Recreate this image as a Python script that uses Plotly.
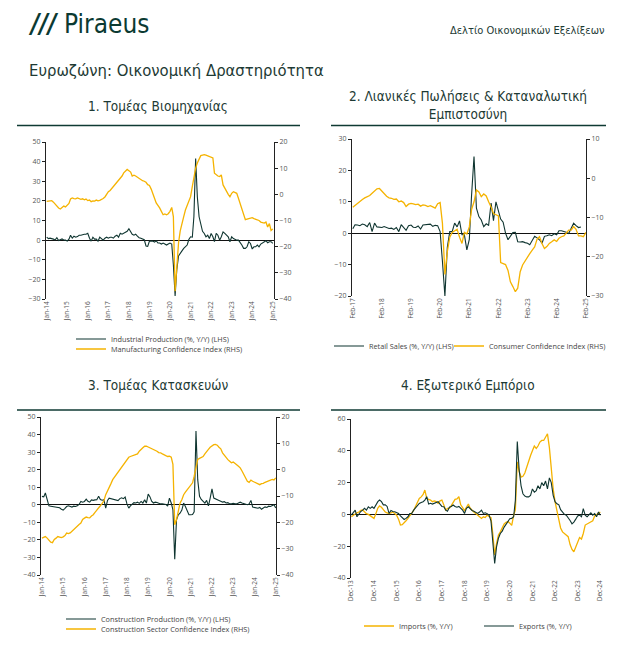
import plotly.graph_objects as go
import pandas as pd

# ---------------- Panel 1: Industry (Jan-14 .. Jan-25, monthly) ----------------
p1_start = "2014-01-01"
ind_prod = [
    1.5, 0.8, 1.0, 0.9, 0.5, 0.1, 1.2, -0.2, 0.2, 0.6, 0.1, 0.0,
    -0.5, 0.5, 2.5, 1.0, 2.0, 1.5, 1.8, 2.5, 2.5, 2.8, 3.0, 3.0,
    3.5, 1.0, -0.5, 1.5, 0.5, 0.5, -0.5, 1.5, 0.5, 0.0, 1.0, 1.5,
    1.0, 1.5, 1.5, 1.0, 2.0, 2.5, 1.5, 3.5, 3.0, 3.5, 4.0, 4.5,
    5.8, 4.0, 3.0, 2.5, 3.0, 2.0, 1.2, 1.0, 0.5, 0.2, -3.0, -3.2,
    -0.5, -0.3, -0.5, -1.0, -0.3, -1.5, -1.5, -2.0, -1.5, -2.0, -2.5, -2.0,
    -1.5, -2.0, -12.5, -28.5, -15.0, -8.0, -6.5, -5.5, -4.2, -3.5, -2.5, 0.3,
    1.7, 1.5, 12.0, 41.6, 22.0, 11.9, 8.5, 4.5, 3.4, 1.7, 2.5, 0.8,
    3.4, 1.7, -0.8, 3.4, 2.5, 0.0, 1.7, 4.2, 3.4, 2.5, 1.7, -0.8,
    1.7, 0.8, 0.2, 0.0, 0.0, -1.0, -2.5, -4.2, -4.2, -3.4, -0.8, -1.7,
    -4.5, -3.4, -3.4, -2.5, -3.4, -2.0, -1.5, -0.8, -0.3, -1.3, -0.8, -0.8,
    -1.7,
]
manuf_conf = [
    -2.7, -2.5, -2.3, -2.4, -3.0, -3.8, -4.5, -5.2, -5.6, -5.0, -4.5, -4.8,
    -4.3, -3.5, -1.8, -1.4, -1.6, -1.7, -1.4, -1.8, -1.9, -1.7, -2.1, -1.8,
    -2.4, -2.2, -2.8, -2.5, -2.6, -2.2, -2.5, -2.3, -2.0, -1.6, -1.0, 0.0,
    1.0, 1.5, 2.2, 2.8, 3.5, 4.5, 5.2, 6.0, 7.0, 8.2, 9.0, 9.5,
    9.0, 8.5, 7.0, 7.3, 7.0, 6.5, 6.2, 5.8, 5.2, 5.0, 4.6, 3.7,
    3.4, 2.0, 0.0, -1.5, -3.3, -4.2, -5.2, -6.5, -7.8, -7.5, -7.8, -7.4,
    -6.5, -5.0, -8.5, -37.0, -28.0, -18.5, -14.0, -10.6, -8.5, -6.0, -4.5, -2.8,
    -0.9, 3.0, 7.0, 10.0, 12.0, 13.5, 14.8, 15.0, 15.2, 15.0, 14.8, 14.5,
    14.3, 13.9, 8.1, 7.5, 7.0, 6.8, 7.4, 3.6, 2.3, 1.0, 0.0, -0.9,
    0.4, 1.0, 0.6, 0.4, -1.5, -3.5, -6.0, -8.0, -9.7, -9.5, -9.3, -9.0,
    -8.9, -9.3, -9.5, -9.7, -10.0, -10.6, -10.8, -11.0, -10.6, -12.5, -11.2, -13.8,
    -13.2,
]
p1_ticks = ["Jan-14", "Jan-15", "Jan-16", "Jan-17", "Jan-18", "Jan-19",
            "Jan-20", "Jan-21", "Jan-22", "Jan-23", "Jan-24", "Jan-25"]

# ---------------- Panel 2: Retail sales & consumer confidence ----------------
p2_start = "2017-02-01"
retail = [
    1.4, 2.7, 2.6, 2.4, 2.9, 2.7, 2.1, 3.4, 0.5, 3.2, 2.0,
    1.9, 1.8, 2.1, 1.7, 1.5, 1.6, 1.2, 1.8, 0.5, 2.7, 1.6, 0.9,
    2.4, 2.6, 1.9, 1.8, 2.3, 1.3, 2.6, 2.7, 2.6, 2.9, 2.2, 2.5,
    2.4, 0.5, -9.0, -20.0, -4.5, 0.5, 0.5, 3.2, 2.0, 3.9, -0.5, -0.5,
    -5.3, -2.0, 12.0, 24.4, 8.0, 5.3, 4.2, 2.1, 3.0, 2.5, 9.6, 4.0,
    10.0, 7.0, 4.5, 3.5, 0.0, -2.1, -1.0, 0.2, 0.3, -2.7, -2.8, -2.7,
    -3.0, -3.2, -3.7, -2.4, -1.0, -1.5, -2.1, -3.2, -1.0, -0.8, -0.5, -0.8,
    -0.2, -0.5, 0.8, 0.8, 0.6, 0.3, -0.1, 1.5, 3.2, 2.4, 1.8, 2.0,
]
cons_conf = [
    -7.4, -6.9, -6.3, -6.0, -5.4, -5.0, -4.7, -4.4, -3.8, -3.2, -2.7,
    -2.6, -3.3, -4.1, -4.6, -5.0, -5.1, -5.4, -5.3, -6.0, -5.8, -6.2, -7.2,
    -6.6, -6.4, -6.5, -6.7, -6.6, -7.1, -6.8, -6.9, -7.2, -7.0, -7.3, -7.6,
    -6.5, -6.2, -11.5, -24.5, -18.7, -15.0, -13.8, -13.5, -13.0, -15.0, -16.6, -13.8,
    -14.2, -12.4, -8.0, -6.0, -3.0, -3.5, -4.7, -4.0, -4.5, -6.0, -7.3, -9.0,
    -9.4, -9.6, -21.5, -21.8, -22.0, -23.5, -26.4, -27.6, -28.9, -28.0, -23.8, -22.1,
    -21.0, -20.0, -19.2, -18.3, -17.5, -15.5, -14.9, -16.6, -17.9, -17.4, -16.6, -16.2,
    -15.7, -16.1, -15.3, -14.9, -14.7, -14.0, -13.2, -13.2, -12.3, -13.0, -14.7, -14.7,
    -14.9, -13.8,
]
p2_ticks = ["Feb-17", "Feb-18", "Feb-19", "Feb-20", "Feb-21",
            "Feb-22", "Feb-23", "Feb-24", "Feb-25"]

# ---------------- Panel 3: Construction (Jan-14 .. Jan-25) ----------------
p3_start = "2014-01-01"
constr_prod = [
    4.8, 4.5, 6.7, 2.5, -0.6, -0.8, -1.0, -1.3, -1.5, -1.8, -1.7, -2.5,
    -3.0, -2.0, -1.0, -0.6, -1.0, -1.3, -0.8, -1.0, -0.6, 0.2, 1.9, 1.5,
    1.9, 3.2, 2.0, 1.5, 2.8, 2.5, 2.8, 2.9, 4.8, 3.0, 2.6, 2.9,
    -1.9, 2.5, 3.8, 3.5, 3.2, 3.0, 2.6, 2.4, 3.5, 4.0, 3.5, 4.4,
    0.5, -1.9, -0.6, 0.5, 1.2, 1.0, 1.5, 0.8, 1.9, 1.0, 2.8, 1.0,
    6.1, 4.5, 2.0, 1.0, 1.5, 1.3, 0.8, 0.5, 0.6, 0.4, 0.2, -0.8,
    3.8, 1.0, -2.9, -31.0, -8.6, -5.7, -4.8, -3.0, 1.0, -1.0, -3.8, -5.7,
    -5.7, -5.5, -4.0, 42.0, 14.3, 4.8, 3.0, 2.0, 1.0, 2.5, -0.6, 3.8,
    9.0, 3.8, 3.5, 3.0, 2.5, 2.0, 1.5, 1.8, 1.0, 1.2, 0.5, 0.5,
    0.8, 0.5, 0.5, 1.0, 1.5, 1.0, 0.8, 0.5, 0.0, 0.5, 2.5, -1.3,
    -1.5, -1.8, -2.0, -1.5, -2.5, -1.8, -1.2, -1.5, -0.8, -1.0, -0.5, 0.0,
    -1.8,
]
constr_conf = [
    -26.0, -25.7, -25.4, -26.0, -26.7, -27.5, -27.7, -26.5, -26.0, -25.4, -25.6, -25.8,
    -25.5, -25.0, -24.1, -24.3, -24.0, -23.3, -22.8, -22.2, -21.6, -20.8, -20.3, -18.9,
    -18.4, -18.0, -18.2, -18.3, -17.6, -17.1, -16.2, -15.2, -14.5, -13.7, -12.8, -11.8,
    -9.5, -8.2, -6.8, -5.3, -3.8, -2.8, -1.9, -0.9, 0.0, 1.0, 2.0, 3.2,
    4.0, 4.7, 5.0, 5.3, 5.5, 5.8, 6.0, 7.0, 7.5, 8.3, 8.9, 8.9,
    8.6, 8.3, 8.0, 7.8, 7.5, 7.0, 6.5, 6.4, 6.0, 5.6, 5.2, 5.0,
    5.1, 4.7, 2.0, -20.9, -19.0, -15.2, -12.7, -11.4, -9.5, -8.5, -7.6, -7.0,
    -6.2, -5.0, -2.5, 0.7, 3.9, 4.3, 4.5, 5.0, 6.0, 7.0, 7.7, 8.5,
    9.2, 9.5, 9.6, 9.3, 8.5, 7.9, 6.4, 5.5, 4.5, 3.8, 3.2, 2.6,
    2.9, 2.5, 1.9, 1.3, 0.7, -0.5, -1.9, -3.2, -4.4, -4.8, -4.0, -4.4,
    -4.8, -5.0, -5.4, -5.7, -5.3, -5.2, -4.8, -4.5, -4.0, -3.8, -3.7, -3.9,
    -3.1,
]
p3_ticks = p1_ticks

# ---------------- Panel 4: External trade (Dec-13 .. Dec-24) ----------------
p4_start = "2013-12-01"
imports = [
    -1.5,
    -0.5, 0.0, 1.0, 1.5, 2.5, 2.8, 1.5, 0.5, 0.0, -1.0, -2.0, -2.5,
    0.5, 4.0, 5.3, 4.5, 3.0, 1.5, 1.0, 0.5, 1.0, 1.5, 0.5, -0.5,
    -3.0, -6.7, -6.5, -5.5, -4.0, -2.5, -1.0, 0.5, 2.5, 5.0, 8.0, 10.0,
    11.0, 12.5, 15.3, 10.0, 9.5, 9.0, 8.0, 8.5, 8.0, 7.0, 8.5, 9.0,
    6.0, 2.7, 3.8, 4.0, 5.5, 7.5, 9.5, 9.8, 11.1, 6.0, 4.0, 2.5,
    4.5, 6.5, 4.0, 2.5, 1.5, 0.5, -0.5, -1.5, -2.5, -1.5, -2.0, -0.5,
    -1.0, -2.0, -12.0, -25.5, -18.3, -13.0, -11.0, -8.0, -6.0, -5.0, -4.5, -5.5,
    -6.9, -0.6, 3.0, 33.0, 27.0, 23.5, 24.0, 26.0, 30.0, 33.0, 37.0, 40.0,
    43.0, 41.5, 43.0, 45.5, 46.5, 46.5, 48.5, 50.7, 42.0, 28.0, 16.0, 8.0,
    1.5, -4.8, -8.5, -11.0, -12.0, -13.0, -14.0, -19.0, -22.0, -23.5, -20.0, -17.0,
    -14.5, -15.5, -12.0, -6.7, -6.0, -5.7, -5.0, -4.0, -1.0, 0.0, 1.0, 1.5,
]
exports = [
    -0.4,
    1.0, 2.7, -1.5, 0.5, 1.8, 2.7, 3.8, 2.7, 4.8, 3.8, 4.8, 3.8,
    6.0, 8.0, 9.0, 8.0, 6.0, 6.0, 5.0, 0.6, 2.5, 1.8, 1.7, 1.0,
    0.6, -1.0, -2.0, -3.2, -2.5, -1.5, 0.5, 0.6, 2.7, 4.0, 5.5, 6.9,
    7.5, 8.0, 9.0, 11.1, 6.5, 7.0, 6.5, 7.0, 7.5, 8.0, 6.5, 5.0,
    4.8, 2.7, 2.0, 4.5, 5.0, 5.9, 5.0, 4.5, 5.0, 4.0, 2.7, 0.6,
    3.8, 4.8, 3.5, 2.5, 2.0, 1.5, 0.6, 1.5, 2.7, 0.6, 1.0, 0.5,
    -0.4, -4.0, -15.0, -30.9, -20.4, -15.0, -12.0, -10.5, -8.0, -6.0, -4.8, -2.7,
    -2.5, -1.5, 9.0, 45.8, 28.0, 18.0, 13.0, 11.5, 11.0, 11.0, 12.0, 16.0,
    14.0, 15.0, 18.0, 16.0, 20.0, 18.0, 21.0, 16.0, 23.0, 20.0, 12.0, 8.0,
    6.7, 6.0, 3.0, 1.5, 0.0, -0.5, -2.0, -3.8, -5.9, -4.8, -3.0, -1.0,
    -0.5, -1.5, 3.6, -0.5, -1.5, 0.0, 1.0, -0.5, 0.5, -1.5, 1.5, -0.5,
]
p4_ticks = ["Dec-13", "Dec-14", "Dec-15", "Dec-16", "Dec-17", "Dec-18",
            "Dec-19", "Dec-20", "Dec-21", "Dec-22", "Dec-23", "Dec-24"]

# ---------------- styling ----------------
DARK = "#0f3530"
GOLD = "#f5b301"
TXT = "#1d3a34"
TICKC = "#555555"
W, H = 622, 649
OFF = 8  # page body margin of the html page
SANS = "Open Sans"
NARROW = "DejaVu Sans Condensed, serif"


def px(x):
    return (x - OFF) / W


def py(y):
    return 1 - (y - OFF) / H


def dates(start, n):
    return pd.date_range(start, periods=n, freq="MS")


def tick_dates(start, labels):
    return pd.date_range(start, periods=len(labels), freq="12MS")


fig = go.Figure()

# Panel 1
fig.add_trace(go.Scatter(x=dates(p1_start, len(ind_prod)), y=ind_prod, mode="lines",
                         name="Industrial Production (%, Y/Y) (LHS)",
                         line=dict(color=DARK, width=1.1), xaxis="x", yaxis="y", legend="legend"))
fig.add_trace(go.Scatter(x=dates(p1_start, len(manuf_conf)), y=manuf_conf, mode="lines",
                         name="Manufacturing Confidence Index (RHS)",
                         line=dict(color=GOLD, width=1.3), xaxis="x", yaxis="y2", legend="legend2"))
# Panel 2
fig.add_trace(go.Scatter(x=dates(p2_start, len(retail)), y=retail, mode="lines",
                         name="Retail Sales (%, Y/Y) (LHS)",
                         line=dict(color=DARK, width=1.1), xaxis="x2", yaxis="y3", legend="legend3"))
fig.add_trace(go.Scatter(x=dates(p2_start, len(cons_conf)), y=cons_conf, mode="lines",
                         name="Consumer Confidence Index (RHS)",
                         line=dict(color=GOLD, width=1.3), xaxis="x2", yaxis="y4", legend="legend4"))
# Panel 3
fig.add_trace(go.Scatter(x=dates(p3_start, len(constr_prod)), y=constr_prod, mode="lines",
                         name="Construction Production (%, Y/Y) (LHS)",
                         line=dict(color=DARK, width=1.1), xaxis="x3", yaxis="y5", legend="legend5"))
fig.add_trace(go.Scatter(x=dates(p3_start, len(constr_conf)), y=constr_conf, mode="lines",
                         name="Construction Sector Confidence Index (RHS)",
                         line=dict(color=GOLD, width=1.3), xaxis="x3", yaxis="y6", legend="legend6"))
# Panel 4
fig.add_trace(go.Scatter(x=dates(p4_start, len(imports)), y=imports, mode="lines",
                         name="Imports (%, Y/Y)",
                         line=dict(color=GOLD, width=1.3), xaxis="x4", yaxis="y7", legend="legend7"))
fig.add_trace(go.Scatter(x=dates(p4_start, len(exports)), y=exports, mode="lines",
                         name="Exports (%, Y/Y)",
                         line=dict(color=DARK, width=1.1), xaxis="x4", yaxis="y7", legend="legend8"))

tickfont = dict(family=SANS, size=7, color=TICKC)


def yax(domain, rng, dtick, anchor, side="left", overlay=None, zero=False):
    d = dict(domain=domain, range=rng, dtick=dtick, anchor=anchor, side=side,
             showgrid=False, showline=True, linecolor="#222", linewidth=1,
             ticks="outside", ticklen=3, tickcolor="#222", tickfont=tickfont,
             zeroline=zero, zerolinecolor="#111", zerolinewidth=1, fixedrange=True,
             automargin=False)
    if overlay:
        d["overlaying"] = overlay
    return d


def xax(domain, rng, start, labels, anchor):
    return dict(domain=domain, range=rng, anchor=anchor, type="date",
                tickvals=tick_dates(start, labels), ticktext=labels, tickangle=-90,
                showgrid=False, showline=False, zeroline=False, ticks="",
                tickfont=dict(family=SANS, size=6.5, color=TICKC), fixedrange=True,
                automargin=False)


layout = dict(
    width=W, height=H, margin=dict(l=0, r=0, t=0, b=0, autoexpand=False),
    paper_bgcolor="white", plot_bgcolor="rgba(0,0,0,0)", showlegend=True,
    xaxis=xax([px(46), px(274)], ["2013-12-20", "2025-01-22"], "2014-01-01", p1_ticks, "y"),
    yaxis=yax([py(299), py(142)], [-30, 50], 10, "x", zero=True),
    yaxis2=yax([py(299), py(142)], [-40, 20], 10, "x", side="right", overlay="y"),
    xaxis2=xax([px(352), px(586)], ["2017-01-22", "2025-02-03"], "2017-02-01", p2_ticks, "y3"),
    yaxis3=yax([py(296), py(139)], [-20, 30], 10, "x2", zero=True),
    yaxis4=yax([py(296), py(139)], [-30, 10], 10, "x2", side="right", overlay="y3"),
    xaxis3=xax([px(41), px(276)], ["2013-12-16", "2025-01-05"], "2014-01-01", p3_ticks, "y5"),
    yaxis5=yax([py(575), py(417)], [-40, 50], 10, "x3", zero=True),
    yaxis6=yax([py(575), py(417)], [-40, 20], 10, "x3", side="right", overlay="y5"),
    xaxis4=xax([px(351), px(601)], ["2013-11-25", "2024-12-12"], "2013-12-01", p4_ticks, "y7"),
    yaxis7=yax([py(578), py(419)], [-40, 60], 20, "x4", zero=True),
)

legfont = dict(family=SANS, size=7.3, color="#444")


def leg(x_text, y_mid):
    return dict(x=px(x_text - 39), y=py(y_mid), xanchor="left", yanchor="middle",
                orientation="h", bgcolor="rgba(0,0,0,0)", borderwidth=0,
                font=legfont, itemclick=False, itemdoubleclick=False)


layout["legend"] = leg(110, 339)
layout["legend2"] = leg(110, 349)
layout["legend3"] = leg(368, 346)
layout["legend4"] = leg(488, 346)
layout["legend5"] = leg(100, 619)
layout["legend6"] = leg(100, 629)
layout["legend7"] = leg(398, 626)
layout["legend8"] = leg(518, 626)

fig.update_layout(**layout)

# header texts
ann = [
    dict(text="<b><i>///</i></b> Piraeus", x=px(26), y=py(24), xanchor="left", yanchor="middle",
         font=dict(family=NARROW, size=26, color="#0b3a32")),
    dict(text="Δελτίο Οικονομικών Εξελίξεων", x=px(607), y=py(30), xanchor="right", yanchor="middle",
         font=dict(family=NARROW, size=11, color=TXT)),
    dict(text="Ευρωζώνη: Οικονομική Δραστηριότητα", x=px(27), y=py(70), xanchor="left", yanchor="middle",
         font=dict(family=NARROW, size=16.5, color=TXT)),
    dict(text="1. Τομέας Βιομηχανίας", x=px(158), y=py(106), xanchor="center", yanchor="middle",
         font=dict(family=NARROW, size=13.5, color=TXT)),
    dict(text="2. Λιανικές Πωλήσεις & Καταναλωτική<br>Εμπιστοσύνη", x=px(468), y=py(105),
         xanchor="center", yanchor="middle", align="center",
         font=dict(family=NARROW, size=13.5, color=TXT)),
    dict(text="3. Τομέας Κατασκευών", x=px(158), y=py(385), xanchor="center", yanchor="middle",
         font=dict(family=NARROW, size=13.5, color=TXT)),
    dict(text="4. Εξωτερικό Εμπόριο", x=px(468), y=py(385), xanchor="center", yanchor="middle",
         font=dict(family=NARROW, size=13.5, color=TXT)),
]
for a in ann:
    a.update(xref="paper", yref="paper", showarrow=False)
fig.update_layout(annotations=ann)

# separator rules under the panel titles
for (x0, x1, y) in [(17, 300, 125.5), (331, 606, 125.5), (17, 300, 410), (331, 606, 410)]:
    fig.add_shape(type="line", xref="paper", yref="paper", x0=px(x0), x1=px(x1), y0=py(y), y1=py(y),
                  line=dict(color="#0f3a33", width=1.6))

fig.write_html("out.html")
